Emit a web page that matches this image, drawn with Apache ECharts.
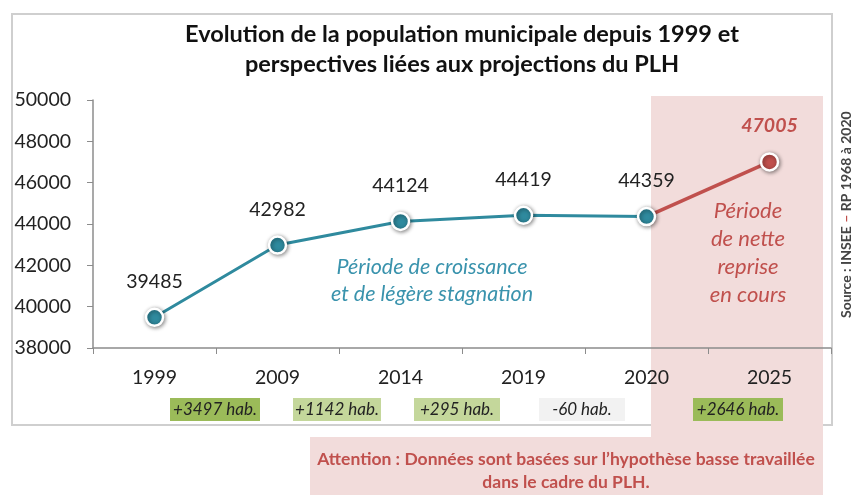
<!DOCTYPE html>
<html>
<head>
<meta charset="utf-8">
<script src="https://cdn.jsdelivr.net/npm/echarts@6/dist/echarts.min.js"></script>
<style>
  html, body { margin: 0; padding: 0; background: #fff; }
  #main { width: 851px; height: 495px; }
</style>
</head>
<body>
<div id="main"></div>
<script>
var years = ['1999', '2009', '2014', '2019', '2020', '2025'];
var population = [39485, 42982, 44124, 44419, 44359, null];
var projection = [null, null, null, null, 44359, 47005];
var variations = ['+3497 hab.', '+1142 hab.', '+295 hab.', '-60 hab.', '+2646 hab.'];

var teal = '#2f8a9e';
var red = '#c0504d';
var font = 'Lato';

// boxes under the x axis
var boxX = [215, 337, 457, 582, 738];
var boxW = [90, 88, 86, 86, 90];
var boxColor = ['#9bbb59', '#c4d79b', '#c4d79b', '#f2f2f2', '#9bbb59'];

var graphics = [
  // outer frame
  { type: 'rect', z: 0, shape: { x: 12, y: 14, width: 820, height: 411 },
    style: { fill: '#fff', stroke: '#cfcfcf', lineWidth: 2 } },
  // pink zone
  { type: 'rect', z: 1, shape: { x: 651, y: 96, width: 172, height: 400 },
    style: { fill: '#f2dcdb' } },
  { type: 'rect', z: 1, shape: { x: 310, y: 437, width: 513, height: 60 },
    style: { fill: '#f2dcdb' } },
  // title
  { type: 'text', z: 10, x: 462, y: 19,
    style: { text: 'Evolution de la population municipale depuis 1999 et\nperspectives liées aux projections du PLH',
      fontFamily: font, fontWeight: 'bold', fontSize: 23.5, lineHeight: 30, fill: '#111', align: 'center' } },
  // annotations
  { type: 'text', z: 10, x: 432, y: 254,
    style: { text: 'Période de croissance\net de légère stagnation', fontFamily: font, fontStyle: 'italic',
      fontSize: 21.5, lineHeight: 27, fill: '#3a93ad', align: 'center' } },
  { type: 'text', z: 10, x: 748, y: 197,
    style: { text: 'Période\nde nette\nreprise\nen cours', fontFamily: font, fontStyle: 'italic',
      fontSize: 22, lineHeight: 28, fill: '#c0504d', align: 'center' } },
  // attention note
  { type: 'text', z: 10, x: 566, y: 448,
    style: { text: 'Attention : Données sont basées sur l’hypothèse basse travaillée\ndans le cadre du PLH.',
      fontFamily: font, fontWeight: 'bold', fontSize: 17.5, lineHeight: 23, fill: '#c0504d', align: 'center' } },
  // source
  { type: 'text', z: 10, x: 846, y: 318, rotation: Math.PI / 2,
    style: { text: '{a|Source : INSEE }{b|–}{a| RP 1968 à 2020}', verticalAlign: 'middle',
      rich: { a: { fill: '#444', fontFamily: font, fontSize: 14, fontWeight: 'bold' },
              b: { fill: '#c0504d', fontFamily: font, fontSize: 14, fontWeight: 'bold' } } } }
];

variations.forEach(function (t, i) {
  graphics.push({ type: 'rect', z: 5, shape: { x: boxX[i] - boxW[i] / 2, y: 398, width: boxW[i], height: 23 },
    style: { fill: boxColor[i] } });
  graphics.push({ type: 'text', z: 6, x: boxX[i], y: 410,
    style: { text: t, fontFamily: font, fontStyle: 'italic', fontSize: 17, fill: '#222',
      align: 'center', verticalAlign: 'middle' } });
});

var chart = echarts.init(document.getElementById('main'));

var option = {
  animation: false,
  backgroundColor: '#fff',
  grid: { left: 93, right: 20, top: 100, bottom: 147 },
  graphic: graphics,
  xAxis: {
    type: 'category',
    data: years,
    z: 3,
    axisLine: { lineStyle: { color: '#8c8c8c', width: 1.5 } },
    axisTick: { show: true, length: 6, lineStyle: { color: '#8c8c8c' } },
    axisLabel: { fontFamily: font, fontSize: 19.5, color: '#222', margin: 20 }
  },
  yAxis: {
    type: 'value',
    min: 38000,
    max: 50000,
    interval: 2000,
    z: 3,
    axisLine: { show: true, lineStyle: { color: '#8c8c8c', width: 1.5 } },
    axisTick: { show: true, length: 6, lineStyle: { color: '#8c8c8c' } },
    splitLine: { show: false },
    axisLabel: { fontFamily: font, fontSize: 19.5, color: '#222', margin: 22,
      formatter: function (v) { return String(v); } }
  },
  series: [
    {
      name: 'projection',
      type: 'line',
      z: 3,
      data: projection.map(function (v, i) {
        return i === 4 ? { value: v, symbol: 'none', label: { show: false } } : v;
      }),
      symbol: 'circle',
      symbolSize: 17,
      lineStyle: { color: red, width: 3.5 },
      itemStyle: { color: red, borderColor: '#fff', borderWidth: 2.5,
        shadowBlur: 4, shadowColor: 'rgba(0,0,0,0.45)', shadowOffsetX: 1, shadowOffsetY: 1 },
      label: { show: true, position: 'top', distance: 16, fontFamily: font, fontSize: 19.5,
        fontWeight: 'bold', fontStyle: 'italic', color: red }
    },
    {
      name: 'population',
      type: 'line',
      z: 4,
      data: population,
      symbol: 'circle',
      symbolSize: 17,
      lineStyle: { color: teal, width: 3 },
      itemStyle: { color: teal, borderColor: '#fff', borderWidth: 2.5,
        shadowBlur: 4, shadowColor: 'rgba(0,0,0,0.45)', shadowOffsetX: 1, shadowOffsetY: 1 },
      label: { show: true, position: 'top', distance: 16, fontFamily: font, fontSize: 19.5, color: '#222' }
    }
  ]
};

chart.setOption(option);
</script>
</body>
</html>
